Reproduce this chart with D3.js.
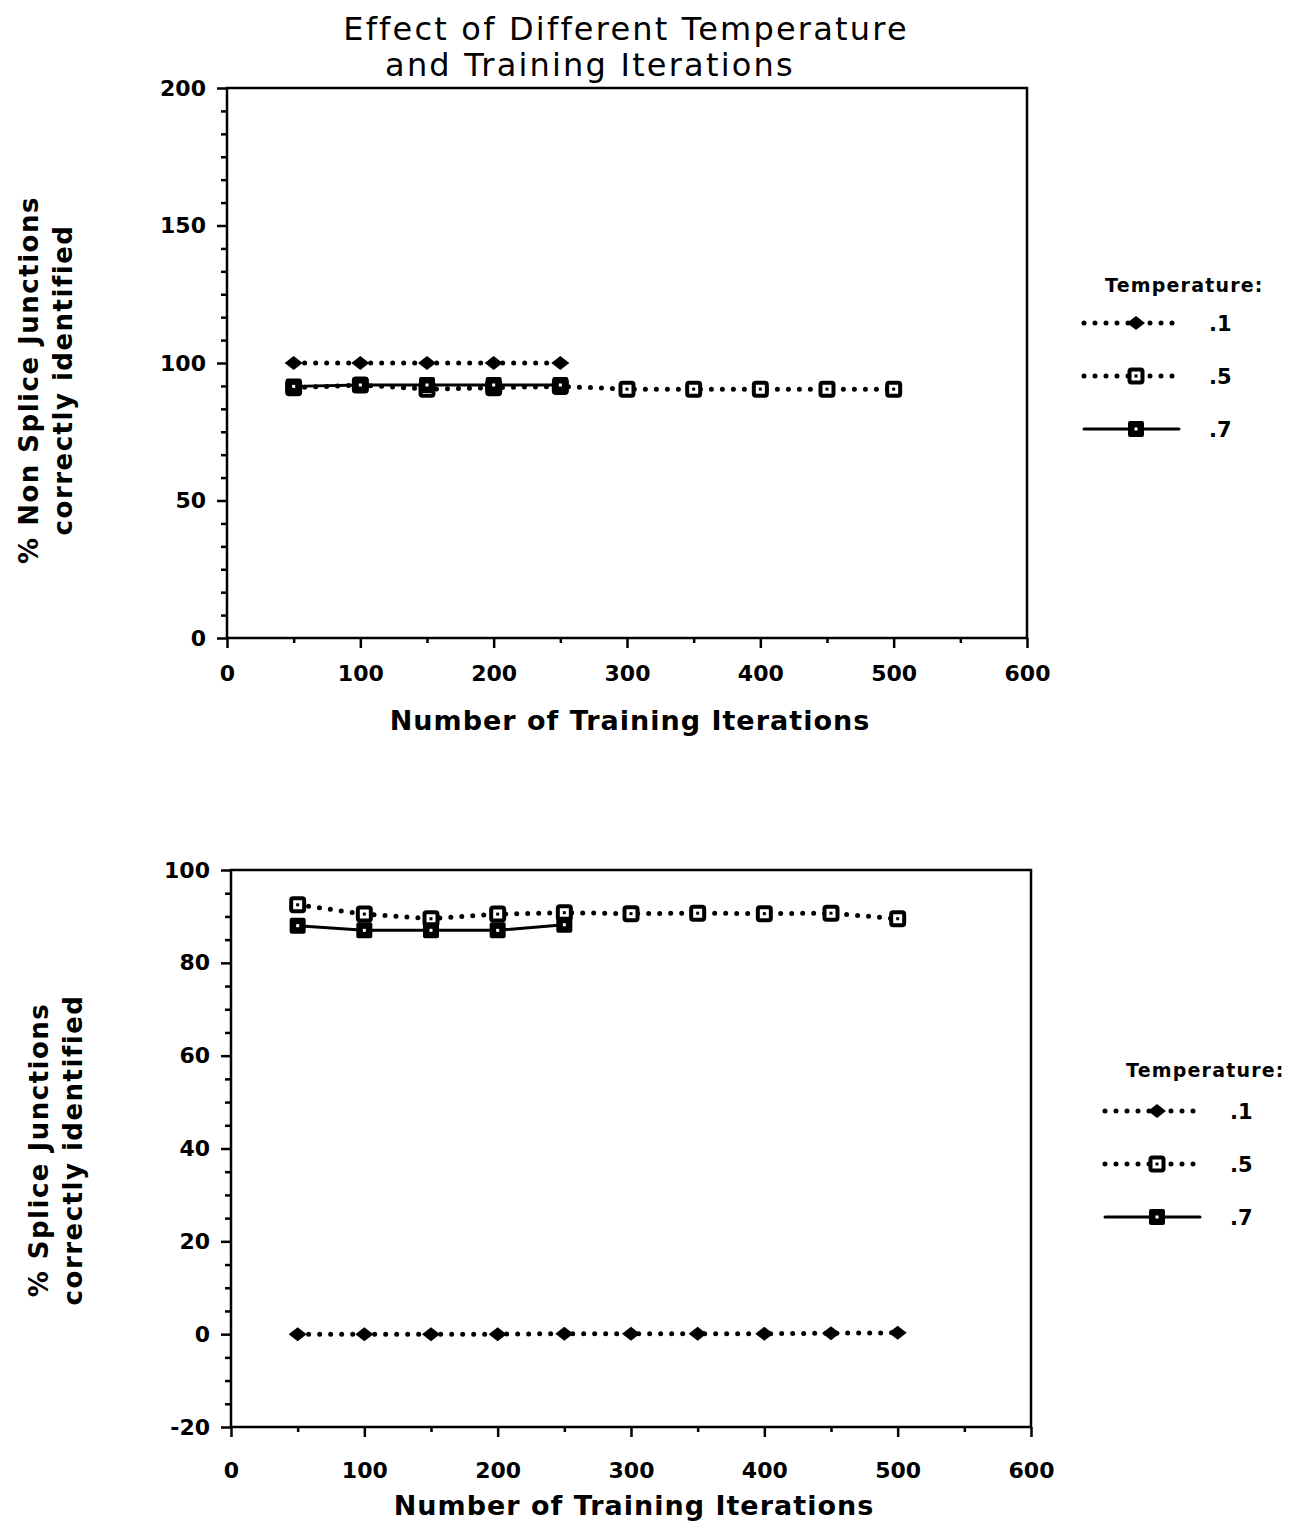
<!DOCTYPE html>
<html lang="en">
<head>
  <meta charset="UTF-8">
  <title>Effect of Different Temperature and Training Iterations</title>
  <script src="https://d3js.org/d3.v7.min.js"></script>
  <style>
    body { margin: 0; background: #fff; }
    text { font-family: "DejaVu Sans", sans-serif; fill: #000; }
  </style>
</head>
<body>
  <div class="canvas"></div>
  <script>
    // iterations on the x axis
    const iterations = [50, 100, 150, 200, 250, 300, 350, 400, 450, 500];
    const temperatures = [".1", ".5", ".7"];

    // top chart: % non splice junctions correctly identified
    const nonSplice01 = [100, 100, 100, 100, 100];
    const nonSplice05 = [91, 92, 90.5, 91, 91.5, 90.5, 90.5, 90.5, 90.5, 90.5];
    const nonSplice07 = [91.5, 92, 92, 92, 92];

    // bottom chart: % splice junctions correctly identified
    const splice01 = [0, 0, 0, 0, 0.1, 0.1, 0.1, 0.1, 0.2, 0.3];
    const splice05 = [92.5, 90.5, 89.5, 90.5, 90.8, 90.6, 90.7, 90.6, 90.7, 89.5];
    const splice07 = [88, 87, 87, 87, 88.2];

    const xTicks = [0, 100, 200, 300, 400, 500, 600];
    const topYTicks = [0, 50, 100, 150, 200];
    const bottomYTicks = [-20, 0, 20, 40, 60, 80, 100];

    const font = "DejaVu Sans, sans-serif";

    const svg = d3.select(".canvas").append("svg")
      .attr("width", 1307)
      .attr("height", 1525);

    // title
    svg.append("text").attr("x", 626).attr("y", 40)
      .attr("text-anchor", "middle").attr("font-size", 32).attr("letter-spacing", 2.2)
      .text("Effect of Different Temperature");
    svg.append("text").attr("x", 590).attr("y", 76)
      .attr("text-anchor", "middle").attr("font-size", 32).attr("letter-spacing", 2.2)
      .text("and Training Iterations");

    const toPoints = vals => vals.map((v, i) => ({ it: iterations[i], v }));

    const styles = {
      ".1": { dash: "0,11", width: 5, marker: "diamond" },
      ".5": { dash: "0,11", width: 5, marker: "open" },
      ".7": { dash: null, width: 3, marker: "filled" }
    };

    function drawMarker(g, kind, cx, cy) {
      if (kind === "diamond") {
        g.append("path")
          .attr("d", `M${cx - 9},${cy} L${cx},${cy - 7} L${cx + 9},${cy} L${cx},${cy + 7} Z`)
          .attr("fill", "#000");
      } else if (kind === "open") {
        g.append("rect").attr("x", cx - 6.5).attr("y", cy - 6.5)
          .attr("width", 13).attr("height", 13).attr("rx", 2)
          .attr("fill", "#fff").attr("stroke", "#000").attr("stroke-width", 4);
        g.append("rect").attr("x", cx - 1.5).attr("y", cy - 1.5)
          .attr("width", 3).attr("height", 3).attr("fill", "#000");
      } else {
        g.append("rect").attr("x", cx - 8).attr("y", cy - 8)
          .attr("width", 16).attr("height", 16).attr("rx", 2).attr("fill", "#000");
        g.append("rect").attr("x", cx - 1.5).attr("y", cy - 1.5)
          .attr("width", 3).attr("height", 3).attr("fill", "#fff");
      }
    }

    function drawChart(cfg) {
      const x = d3.scaleLinear().domain([0, 600]).range(cfg.xRange);
      const y = d3.scaleLinear().domain(cfg.yDomain).range(cfg.yRange);
      const g = svg.append("g");

      // minor ticks
      const xMinor = d3.range(50, 600, 100);
      g.append("g").attr("transform", `translate(0,${cfg.yRange[0]})`)
        .call(d3.axisBottom(x).tickValues(xMinor).tickSize(5).tickFormat(""))
        .call(a => a.select(".domain").remove())
        .selectAll("line").attr("stroke-width", 2.5);
      const yMinor = d3.range(cfg.yDomain[0], cfg.yDomain[1], cfg.minorStep)
        .filter(v => !cfg.yTicks.some(t => Math.abs(t - v) < 1e-6));
      g.append("g").attr("transform", `translate(${cfg.xRange[0]},0)`)
        .call(d3.axisLeft(y).tickValues(yMinor).tickSize(6).tickFormat(""))
        .call(a => a.select(".domain").remove())
        .selectAll("line").attr("stroke-width", 2.5);

      // major ticks
      const xAxis = g.append("g").attr("transform", `translate(0,${cfg.yRange[0]})`)
        .call(d3.axisBottom(x).tickValues(xTicks).tickSize(10).tickPadding(cfg.xPad));
      xAxis.select(".domain").remove();
      xAxis.selectAll("line").attr("stroke-width", 2.5);
      xAxis.selectAll("text").attr("font-size", 22).attr("font-weight", "bold")
        .attr("font-family", font);

      const yAxis = g.append("g").attr("transform", `translate(${cfg.xRange[0]},0)`)
        .call(d3.axisLeft(y).tickValues(cfg.yTicks).tickSize(10).tickPadding(11)
          .tickFormat(d => d < 0 ? "-" + Math.abs(d) : d));
      yAxis.select(".domain").remove();
      yAxis.selectAll("line").attr("stroke-width", 2.5);
      yAxis.selectAll("text").attr("font-size", 22).attr("font-weight", "bold")
        .attr("font-family", font);

      // frame
      g.append("rect")
        .attr("x", cfg.xRange[0]).attr("y", cfg.yRange[1])
        .attr("width", cfg.xRange[1] - cfg.xRange[0])
        .attr("height", cfg.yRange[0] - cfg.yRange[1])
        .attr("fill", "none").attr("stroke", "#000").attr("stroke-width", 2.5);

      // series
      const line = d3.line().x(d => x(d.it)).y(d => y(d.v));
      cfg.series.forEach((vals, i) => {
        const st = styles[temperatures[i]];
        const pts = toPoints(vals);
        g.append("path").datum(pts)
          .attr("d", line)
          .attr("fill", "none")
          .attr("stroke", "#000")
          .attr("stroke-width", st.width)
          .attr("stroke-linecap", "round")
          .attr("stroke-dasharray", st.dash);
        pts.forEach(p => drawMarker(g, st.marker, x(p.it), y(p.v)));
      });

      // axis titles
      g.append("text")
        .attr("x", (cfg.xRange[0] + cfg.xRange[1]) / 2 + 3)
        .attr("y", cfg.xLabelY)
        .attr("text-anchor", "middle").attr("font-size", 27).attr("font-weight", "bold")
        .attr("letter-spacing", 1)
        .text("Number of Training Iterations");
      cfg.yLabel.forEach((t, i) => {
        const lx = cfg.yLabelX + i * 34;
        g.append("text")
          .attr("transform", `translate(${lx},${cfg.yLabelY}) rotate(-90)`)
          .attr("text-anchor", "middle").attr("font-size", 26).attr("font-weight", "bold")
          .attr("letter-spacing", 1.5)
          .text(t);
      });

      // legend
      const lg = g.append("g");
      lg.append("text").attr("x", cfg.legend.x + 21).attr("y", cfg.legend.y)
        .attr("font-size", 19).attr("font-weight", "bold").attr("letter-spacing", 1.2)
        .text("Temperature:");
      temperatures.forEach((t, i) => {
        const st = styles[t];
        const ly = cfg.legend.y + cfg.legend.rowOffset + i * 53;
        const x0 = cfg.legend.x, x1 = cfg.legend.x + 95;
        lg.append("line")
          .attr("x1", x0).attr("x2", x1).attr("y1", ly).attr("y2", ly)
          .attr("stroke", "#000").attr("stroke-width", st.width)
          .attr("stroke-linecap", "round")
          .attr("stroke-dasharray", st.dash);
        drawMarker(lg, st.marker, x0 + 52, ly);
        lg.append("text").attr("x", x0 + 125).attr("y", ly + 8)
          .attr("font-size", 21).attr("font-weight", "bold").text(t);
      });
    }

    drawChart({
      xRange: [227, 1027], yRange: [638, 88], yDomain: [0, 200],
      yTicks: topYTicks, minorStep: 50 / 6, xPad: 17,
      series: [nonSplice01, nonSplice05, nonSplice07],
      xLabelY: 730,
      yLabel: ["% Non Splice Junctions", "correctly identified"],
      yLabelX: 38, yLabelY: 380,
      legend: { x: 1084, y: 292, rowOffset: 31 }
    });

    drawChart({
      xRange: [231, 1031], yRange: [1427, 870], yDomain: [-20, 100],
      yTicks: bottomYTicks, minorStep: 5, xPad: 25,
      series: [splice01, splice05, splice07],
      xLabelY: 1515,
      yLabel: ["% Splice Junctions", "correctly identified"],
      yLabelX: 48, yLabelY: 1150,
      legend: { x: 1105, y: 1077, rowOffset: 34 }
    });
  </script>
</body>
</html>
